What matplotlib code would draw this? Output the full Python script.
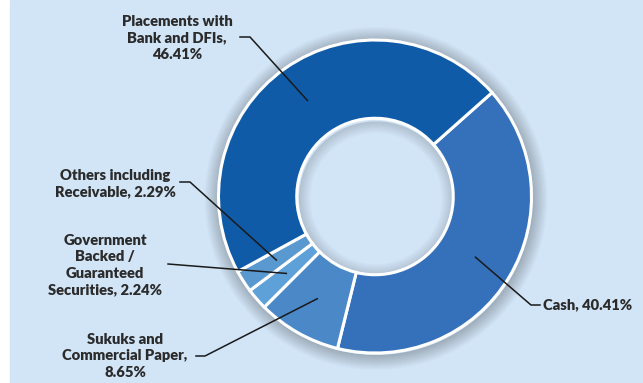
import numpy as np
import matplotlib.pyplot as plt
from matplotlib.patches import Wedge, Rectangle

# data, clockwise from the top-right boundary
labels = ['Cash, 40.41%',
          'Sukuks and\nCommercial Paper,\n8.65%',
          'Government\nBacked /\nGuaranteed\nSecurities, 2.24%',
          'Others including\nReceivable, 2.29%',
          'Placements with\nBank and DFIs,\n46.41%']
shares = [40.41, 8.65, 2.24, 2.29, 46.41]
colors = ['#3571BA', '#4A88C8', '#5EA1D8', '#5A98D0', '#105BA8']

# label text position, elbow point, alignment (pixel layout, y from top)
text_pos = [(543, 305), (125, 356), (105, 265), (115, 184), (177, 38)]
line_start = [(540, 305), (196, 356), (168, 264), (180, 182), (240, 37)]
elbow = [(531, 305), (205, 356), None, (190, 182), (250, 37)]
ha = ['left', 'center', 'center', 'center', 'center']

W, H = 643, 383
bg = '#D2E5F7'
cx, cy, R = 375, H - 196.5, 156.5
hole = 0.5
start = 41.6

fig = plt.figure(figsize=(6.43, 3.83), dpi=100)
fig.patch.set_facecolor('white')
ax = fig.add_axes([0, 0, 1, 1])
ax.set_xlim(0, W)
ax.set_ylim(0, H)
ax.set_aspect('equal')
ax.axis('off')
ax.add_patch(Rectangle((10, 0), W - 10, H, color=bg, zorder=0))

# soft shadow around the ring and inside the hole
for i in range(16):
    ax.add_patch(Wedge((cx + 1, cy - 2), R + 16 - i, 0, 360, width=1.2,
                       color='black', alpha=0.014 * i, lw=0, zorder=1))
rin = R * hole
for i in range(12):
    ax.add_patch(Wedge((cx + 1, cy - 2), rin - 1 - i, 0, 360, width=1.2,
                       color='black', alpha=0.13 - 0.011 * i, lw=0, zorder=1))

wedges, _ = ax.pie(shares, colors=colors, startangle=start, counterclock=False,
                   center=(cx, cy), radius=R, frame=True,
                   wedgeprops=dict(width=R * (1 - hole), edgecolor='white',
                                   linewidth=2.2))
for w in wedges:
    w.set_zorder(2)
ax.set_xlim(0, W)
ax.set_ylim(0, H)
ax.axis('off')

for w, lab, tp, ls, el, a in zip(wedges, labels, text_pos, line_start, elbow, ha):
    ang = np.deg2rad((w.theta1 + w.theta2) / 2)
    px = cx + 0.75 * R * np.cos(ang)
    py = cy + 0.75 * R * np.sin(ang)
    pts = [ls] + ([el] if el else [])
    xs = [p[0] for p in pts] + [px]
    ys = [H - p[1] for p in pts] + [py]
    ax.plot(xs, ys, color='#1a1a1a', lw=1.1, zorder=3)
    ax.text(tp[0], H - tp[1], lab, ha=a, va='center', fontsize=10.6,
            fontweight='heavy', family='Lato', color='#2b2b2b',
            linespacing=1.3, zorder=4)

fig.savefig('out.png', dpi=100)
